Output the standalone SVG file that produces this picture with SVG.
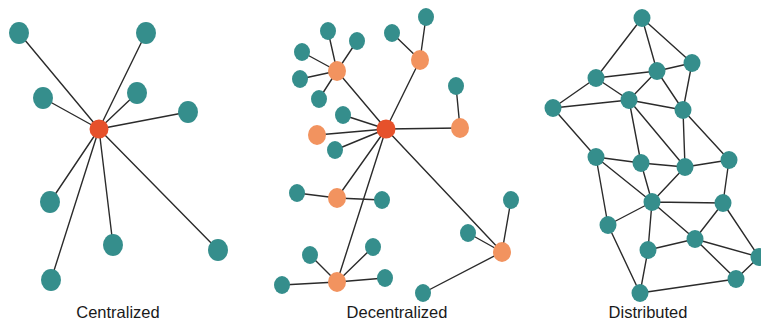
<svg xmlns="http://www.w3.org/2000/svg" width="761" height="323" viewBox="0 0 761 323">
<style>
.e{stroke:#2b2b2b;stroke-width:1.4;fill:none}
.t{fill:#358e8c}
.o{fill:#f2935f}
.r{fill:#e6512b}
.lbl{font-family:"Liberation Sans",Arial,sans-serif;font-size:16.5px;fill:#1a1a1a;text-anchor:middle}
</style>
<rect width="761" height="323" fill="#ffffff"/>
<g id="connectors">
<path class="e" d="M99,129L19,33M99,129L146,33M99,129L43,98M99,129L137,93M99,129L188,112M99,129L50,202M99,129L113,245M99,129L218,250M99,129L51,280"/>
<path class="e" d="M386,129L337,71M386,129L420,60M386,129L460,128M386,129L317,135M386,129L343,115M386,129L335,150M386,129L337,198M386,129L337,282M386,129L502,252"/>
<path class="e" d="M337,71L328,31M337,71L357,41M337,71L302,52M337,71L300,79M337,71L319,99M420,60L392,33M420,60L426,17M460,128L456,86M337,198L297,193M337,198L382,200M337,282L310,255M337,282L373,247M337,282L282,285M337,282L385,278M502,252L511,200M502,252L468,233M502,252L423,293"/>
<path class="e" d="M642,18L596,78M642,18L657,71M642,18L692,63M596,78L657,71M596,78L553,108M596,78L629,100M657,71L692,63M657,71L629,100M657,71L683,110M692,63L683,110M553,108L629,100M553,108L596,157M629,100L641,163M629,100L685,167M629,100L683,110M683,110L685,167M683,110L729,160M596,157L641,163M596,157L652,202M596,157L608,225M641,163L685,167M641,163L652,202M685,167L729,160M685,167L652,202M729,160L723,203M652,202L723,203M652,202L608,225M652,202L648,250M652,202L695,239M723,203L695,239M723,203L759,257M608,225L640,293M695,239L648,250M695,239L759,257M695,239L736,279M648,250L640,293M736,279L640,293M736,279L759,257"/>
</g>
<g id="centralized">
<g id="c-hub"><circle class="r" cx="99" cy="129" r="9.5"/></g>
<g id="c-n1"><ellipse class="t" cx="19" cy="33" rx="10" ry="11"/></g>
<g id="c-n2"><ellipse class="t" cx="146" cy="33" rx="10" ry="11"/></g>
<g id="c-n3"><ellipse class="t" cx="43" cy="98" rx="10" ry="11"/></g>
<g id="c-n4"><ellipse class="t" cx="137" cy="93" rx="10" ry="11"/></g>
<g id="c-n5"><ellipse class="t" cx="188" cy="112" rx="10" ry="11"/></g>
<g id="c-n6"><ellipse class="t" cx="50" cy="202" rx="10" ry="11"/></g>
<g id="c-n7"><ellipse class="t" cx="113" cy="245" rx="10" ry="11"/></g>
<g id="c-n8"><ellipse class="t" cx="218" cy="250" rx="10" ry="11"/></g>
<g id="c-n9"><ellipse class="t" cx="51" cy="280" rx="10" ry="11"/></g>
</g>
<g id="decentralized">
<g id="d-hub"><circle class="r" cx="386" cy="129" r="9.5"/></g>
<g id="d-h1"><ellipse class="o" cx="337" cy="71" rx="9" ry="10"/></g>
<g id="d-h2"><ellipse class="o" cx="420" cy="60" rx="9" ry="10"/></g>
<g id="d-h3"><ellipse class="o" cx="460" cy="128" rx="9" ry="10"/></g>
<g id="d-h4"><ellipse class="o" cx="317" cy="135" rx="9" ry="10"/></g>
<g id="d-h5"><ellipse class="o" cx="337" cy="198" rx="9" ry="10"/></g>
<g id="d-h6"><ellipse class="o" cx="337" cy="282" rx="9" ry="10"/></g>
<g id="d-h7"><ellipse class="o" cx="502" cy="252" rx="9" ry="10"/></g>
<g id="d-l1"><ellipse class="t" cx="328" cy="31" rx="8" ry="9"/></g>
<g id="d-l2"><ellipse class="t" cx="357" cy="41" rx="8" ry="9"/></g>
<g id="d-l3"><ellipse class="t" cx="302" cy="52" rx="8" ry="9"/></g>
<g id="d-l4"><ellipse class="t" cx="300" cy="79" rx="8" ry="9"/></g>
<g id="d-l5"><ellipse class="t" cx="319" cy="99" rx="8" ry="9"/></g>
<g id="d-l6"><ellipse class="t" cx="392" cy="33" rx="8" ry="9"/></g>
<g id="d-l7"><ellipse class="t" cx="426" cy="17" rx="8" ry="9"/></g>
<g id="d-l8"><ellipse class="t" cx="456" cy="86" rx="8" ry="9"/></g>
<g id="d-l9"><ellipse class="t" cx="343" cy="115" rx="8" ry="9"/></g>
<g id="d-l10"><ellipse class="t" cx="335" cy="150" rx="8" ry="9"/></g>
<g id="d-l11"><ellipse class="t" cx="297" cy="193" rx="8" ry="9"/></g>
<g id="d-l12"><ellipse class="t" cx="382" cy="200" rx="8" ry="9"/></g>
<g id="d-l13"><ellipse class="t" cx="310" cy="255" rx="8" ry="9"/></g>
<g id="d-l14"><ellipse class="t" cx="373" cy="247" rx="8" ry="9"/></g>
<g id="d-l15"><ellipse class="t" cx="282" cy="285" rx="8" ry="9"/></g>
<g id="d-l16"><ellipse class="t" cx="385" cy="278" rx="8" ry="9"/></g>
<g id="d-l17"><ellipse class="t" cx="511" cy="200" rx="8" ry="9"/></g>
<g id="d-l18"><ellipse class="t" cx="468" cy="233" rx="8" ry="9"/></g>
<g id="d-l19"><ellipse class="t" cx="423" cy="293" rx="8" ry="9"/></g>
</g>
<g id="distributed">
<g id="n-a"><ellipse class="t" cx="642" cy="18" rx="8.5" ry="9"/></g>
<g id="n-b"><ellipse class="t" cx="596" cy="78" rx="8.5" ry="9"/></g>
<g id="n-c"><ellipse class="t" cx="657" cy="71" rx="8.5" ry="9"/></g>
<g id="n-d"><ellipse class="t" cx="692" cy="63" rx="8.5" ry="9"/></g>
<g id="n-e"><ellipse class="t" cx="553" cy="108" rx="8.5" ry="9"/></g>
<g id="n-f"><ellipse class="t" cx="629" cy="100" rx="8.5" ry="9"/></g>
<g id="n-g"><ellipse class="t" cx="683" cy="110" rx="8.5" ry="9"/></g>
<g id="n-h"><ellipse class="t" cx="596" cy="157" rx="8.5" ry="9"/></g>
<g id="n-i"><ellipse class="t" cx="641" cy="163" rx="8.5" ry="9"/></g>
<g id="n-j"><ellipse class="t" cx="685" cy="167" rx="8.5" ry="9"/></g>
<g id="n-k"><ellipse class="t" cx="729" cy="160" rx="8.5" ry="9"/></g>
<g id="n-l"><ellipse class="t" cx="652" cy="202" rx="8.5" ry="9"/></g>
<g id="n-m"><ellipse class="t" cx="723" cy="203" rx="8.5" ry="9"/></g>
<g id="n-n"><ellipse class="t" cx="608" cy="225" rx="8.5" ry="9"/></g>
<g id="n-o"><ellipse class="t" cx="695" cy="239" rx="8.5" ry="9"/></g>
<g id="n-p"><ellipse class="t" cx="648" cy="250" rx="8.5" ry="9"/></g>
<g id="n-q"><ellipse class="t" cx="759" cy="257" rx="8.5" ry="9"/></g>
<g id="n-r"><ellipse class="t" cx="736" cy="279" rx="8.5" ry="9"/></g>
<g id="n-s"><ellipse class="t" cx="640" cy="293" rx="8.5" ry="9"/></g>
</g>
<g id="labels">
<text class="lbl" x="118" y="318">Centralized</text>
<text class="lbl" x="397" y="318">Decentralized</text>
<text class="lbl" x="648" y="318">Distributed</text>
</g>
</svg>
